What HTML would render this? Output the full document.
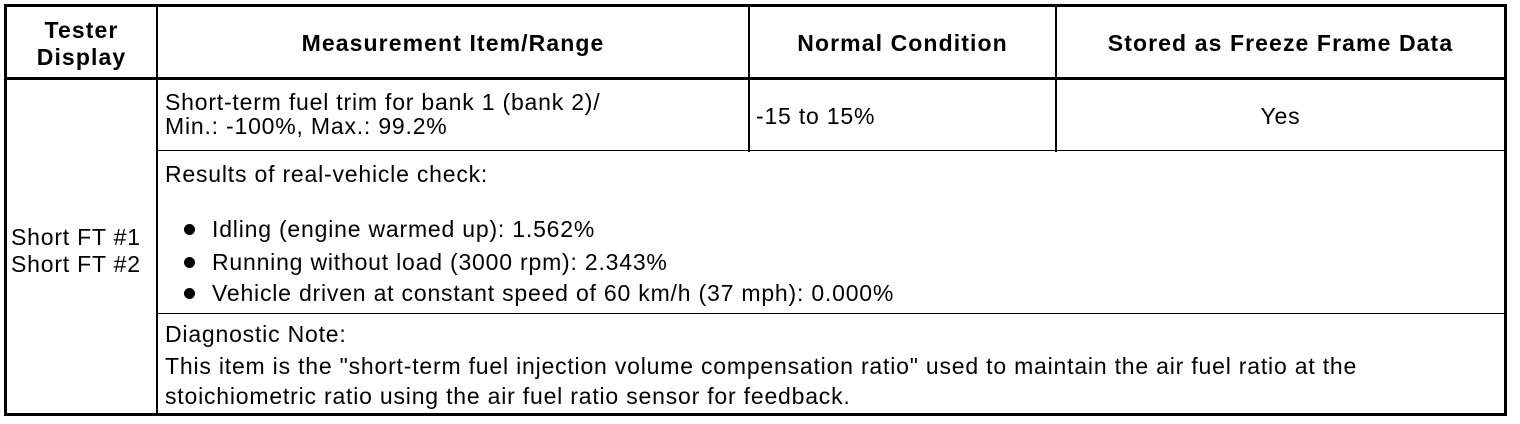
<!DOCTYPE html>
<html><head><style>
html,body{margin:0;padding:0;background:#fff;}
body{width:1520px;height:424px;position:relative;overflow:hidden;font-family:"Liberation Sans",Arial,sans-serif;font-size:23px;letter-spacing:0.8px;color:#000;}
.l{position:absolute;background:#000;}
.t{position:absolute;white-space:nowrap;line-height:24px;}
.b{font-weight:bold;letter-spacing:1.1px;}
.c{text-align:center;}
.dot{display:inline-block;width:11px;height:11px;border-radius:50%;background:#000;margin-right:17px;vertical-align:2px;}
</style></head><body>
<div class="l" style="left:4px;top:4px;width:1503px;height:3px"></div>
<div class="l" style="left:4px;top:413px;width:1503px;height:3px"></div>
<div class="l" style="left:4px;top:4px;width:3px;height:412px"></div>
<div class="l" style="left:1504px;top:4px;width:3px;height:412px"></div>
<div class="l" style="left:4px;top:77px;width:1503px;height:3px"></div>
<div class="l" style="left:156px;top:4px;width:2px;height:412px"></div>
<div class="l" style="left:748px;top:4px;width:2px;height:148px"></div>
<div class="l" style="left:1055px;top:4px;width:2px;height:148px"></div>
<div class="l" style="left:156px;top:150px;width:1351px;height:1px"></div>
<div class="l" style="left:156px;top:313px;width:1351px;height:1px"></div>

<div class="t b c" style="left:7px;width:149px;top:17px;line-height:27px">Tester<br>Display</div>
<div class="t b c" style="left:158px;width:590px;top:31px">Measurement Item/Range</div>
<div class="t b c" style="left:750px;width:305px;top:31px">Normal Condition</div>
<div class="t b c" style="left:1057px;width:447px;top:31px">Stored as Freeze Frame Data</div>

<div class="t" style="left:165px;top:90px">Short-term fuel trim for bank 1 (bank 2)/<br>Min.: -100%, Max.: 99.2%</div>
<div class="t" style="left:756px;top:104px">-15 to 15%</div>
<div class="t c" style="left:1057px;width:447px;top:104px">Yes</div>

<div class="t" style="left:11px;top:224px;line-height:27px">Short FT #1<br>Short FT #2</div>

<div class="t" style="left:165px;top:162px">Results of real-vehicle check:</div>
<div class="t" style="left:184px;top:217px"><span class="dot"></span>Idling (engine warmed up): 1.562%</div>
<div class="t" style="left:184px;top:250px"><span class="dot"></span>Running without load (3000 rpm): 2.343%</div>
<div class="t" style="left:184px;top:281px"><span class="dot"></span>Vehicle driven at constant speed of 60 km/h (37 mph): 0.000%</div>

<div class="t" style="left:165px;top:322px">Diagnostic Note:</div>
<div class="t" style="left:165px;top:354px">This item is the "short-term fuel injection volume compensation ratio" used to maintain the air fuel ratio at the</div>
<div class="t" style="left:165px;top:384px">stoichiometric ratio using the air fuel ratio sensor for feedback.</div>
</body></html>
